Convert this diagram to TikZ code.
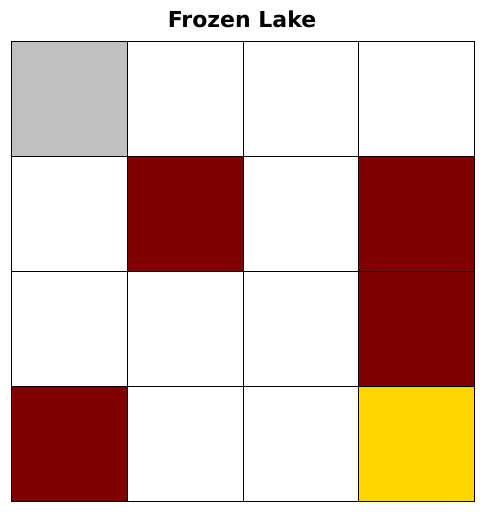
\documentclass[tikz,border=0pt]{standalone}
\usepackage{fontspec}
\setmainfont{DejaVu Sans}
\definecolor{startgray}{HTML}{C0C0C0}
\definecolor{holered}{HTML}{800000}
\definecolor{goalgold}{HTML}{FFD700}
\tikzset{
  cell/.style={
    draw=black,
    line width=1pt,
    shape=rectangle,
    minimum width=115.75pt,
    minimum height=115pt,
    inner sep=0pt,
    anchor=north west
  },
  tileS/.style={cell, fill=startgray},
  tileF/.style={cell, fill=white},
  tileH/.style={cell, fill=holered},
  tileG/.style={cell, fill=goalgold},
  titletext/.style={
    font=\bfseries\fontsize{22}{26}\selectfont
  }
}

\begin{document}
\begin{tikzpicture}[x=1pt,y=-1pt]
        \useasboundingbox (0,0) rectangle (484,512);
        \node[titletext] (title) at (242,19.5) {Frozen Lake};
        % the 4x4 lake, row by row
        \foreach \k [count=\i from 0] in {S,F,F,F,F,H,F,H,F,F,F,H,H,F,F,G} {
          \pgfmathtruncatemacro{\col}{mod(\i,4)}
          \pgfmathtruncatemacro{\row}{\i/4}
          \node[tile\k] (cell\i) at (11+115.75*\col,41+115*\row) {};
        }
    \end{tikzpicture}
\end{document}
